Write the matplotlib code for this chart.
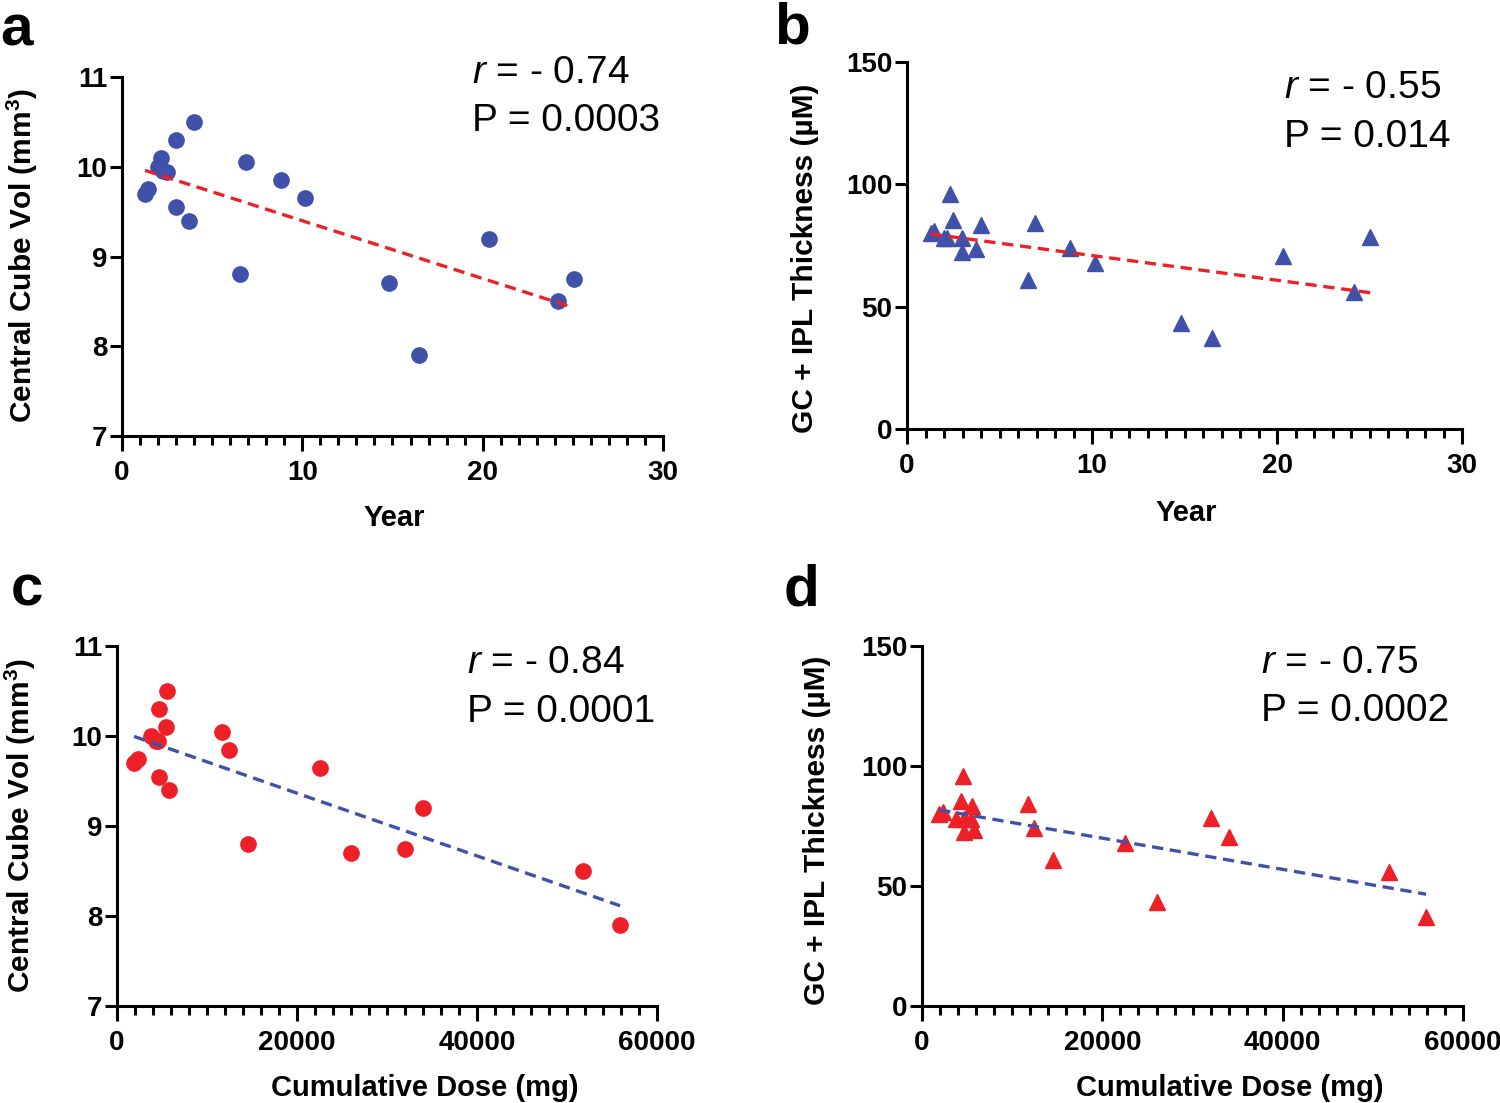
import numpy as np
import matplotlib.pyplot as plt
from matplotlib.ticker import MultipleLocator

# === fonts ===
plt.rcParams['font.family'] = ['Liberation Sans', 'DejaVu Sans']
plt.rcParams['font.weight'] = 'bold'
plt.rcParams['axes.labelweight'] = 'bold'
plt.rcParams['mathtext.fontset'] = 'custom'
plt.rcParams['mathtext.it'] = 'Liberation Sans:italic:normal'
plt.rcParams['mathtext.rm'] = 'Liberation Sans:bold'
plt.rcParams['mathtext.bf'] = 'Liberation Sans:bold'

# === data (one entry per patient) ===
years = [1.28, 1.45, 2.15, 1.98, 2.30, 2.51, 2.98, 3.98, 2.98, 3.73,
         6.90, 8.82, 10.16, 6.56, 14.83, 16.49, 20.33, 24.18, 25.04]
dose = [1900, 2300, 5400, 3800, 4500, 4300, 4700, 5500, 4700, 5800,
        11700, 12400, 22500, 14500, 26000, 55900, 34000, 51800, 32000]
cube_vol = [9.70, 9.75, 10.10, 10.00, 9.95, 9.94, 10.30, 10.50, 9.55, 9.40,
            10.05, 9.85, 9.65, 8.80, 8.70, 7.90, 9.20, 8.50, 8.75]
gc_ipl = [80, 81, 78, 78, 96, 85.5, 78, 83.5, 72.5, 73.5,
          84, 74, 68, 61, 43.5, 37, 70.5, 56, 78.5]

r_text = ['- 0.74', '- 0.55', '- 0.84', '- 0.75']
p_text = ['0.0003', '0.014', '0.0001', '0.0002']

BLUE = '#4051A9'
RED = '#EE2027'

fig = plt.figure(figsize=(15, 11.03), dpi=100)


def panel(rect, x, y, marker, color, line_color, xlim, xmajor, xminor, ylim, yticks,
          xlabel, ylabel, r, p, txt_pos, xlab_pos, ylab_pos):
    ax = fig.add_axes(rect)
    ax.plot(x, y, linestyle='none', marker=marker, color=color,
            markersize=11 if marker == 'o' else 12, clip_on=False, zorder=3)

    # linear fit, drawn over the data range
    k, b = np.polyfit(x, y, 1)
    xs = np.array([min(x), max(x)])
    ax.plot(xs, k * xs + b, color=line_color, lw=2.4, dashes=(3.4, 2.0), zorder=4)

    ax.set_xlim(*xlim)
    ax.set_ylim(*ylim)
    ax.set_yticks(yticks)
    ax.xaxis.set_major_locator(MultipleLocator(xmajor))
    ax.xaxis.set_minor_locator(MultipleLocator(xminor))

    for s in ['top', 'right']:
        ax.spines[s].set_visible(False)
    for s in ['left', 'bottom']:
        ax.spines[s].set_linewidth(2.2)

    ax.tick_params(axis='x', which='major', length=11, width=2.2, labelsize=20, pad=6)
    ax.tick_params(axis='x', which='minor', length=6.5, width=2.2)
    ax.tick_params(axis='y', which='major', length=8.5, width=2.2, labelsize=20, pad=2)

    ax.set_xlabel(xlabel, fontsize=21, va='top')
    ax.xaxis.set_label_coords(*xlab_pos)
    ax.set_ylabel(ylabel, fontsize=21.5)
    ax.yaxis.set_label_coords(*ylab_pos)

    tx, ty_r, ty_p = txt_pos
    ax.text(tx, ty_r, '$r$ = ' + r, transform=ax.transAxes, fontsize=28,
            fontweight='normal', va='baseline')
    ax.text(tx, ty_p, 'P = ' + p, transform=ax.transAxes, fontsize=28,
            fontweight='normal', va='baseline')
    return ax


vol_label = 'Central Cube Vol (mm$^{3}$)'
gc_label = 'GC + IPL Thickness (µM)'

panel([0.0813, 0.6047, 0.3607, 0.3255], years, cube_vol, 'o', BLUE, RED,
      (0, 30), 10, 1, (7, 11), [7, 8, 9, 10, 11], 'Year', vol_label, r_text[0], p_text[0],
      (0.647, 0.983, 0.850), (0.503, -0.19), (-0.152, 0.504))
panel([0.6047, 0.6111, 0.3700, 0.3327], years, gc_ipl, '^', BLUE, RED,
      (0, 30), 10, 1, (0, 150), [0, 50, 100, 150], 'Year', gc_label, r_text[1], p_text[1],
      (0.679, 0.902, 0.768), (0.503, -0.19), (-0.158, 0.466))
panel([0.0780, 0.0879, 0.3600, 0.3264], dose, cube_vol, 'o', RED, BLUE,
      (0, 60000), 20000, 2000, (7, 11), [7, 8, 9, 10, 11], 'Cumulative Dose (mg)', vol_label,
      r_text[2], p_text[2], (0.648, 0.925, 0.789), (0.570, -0.19), (-0.146, 0.503))
panel([0.6147, 0.0879, 0.3607, 0.3264], dose, gc_ipl, '^', RED, BLUE,
      (0, 60000), 20000, 2000, (0, 150), [0, 50, 100, 150], 'Cumulative Dose (mg)', gc_label,
      r_text[3], p_text[3], (0.627, 0.925, 0.792), (0.569, -0.19), (-0.168, 0.489))

# panel letters
for letter, (px, py) in zip('abcd', [(0, 45), (774, 43), (11, 605), (784, 605)]):
    fig.text(px / 1500, 1 - py / 1103, letter, fontsize=42, fontweight='bold',
             va='baseline', ha='left')

fig.savefig('out.png', dpi=100)
